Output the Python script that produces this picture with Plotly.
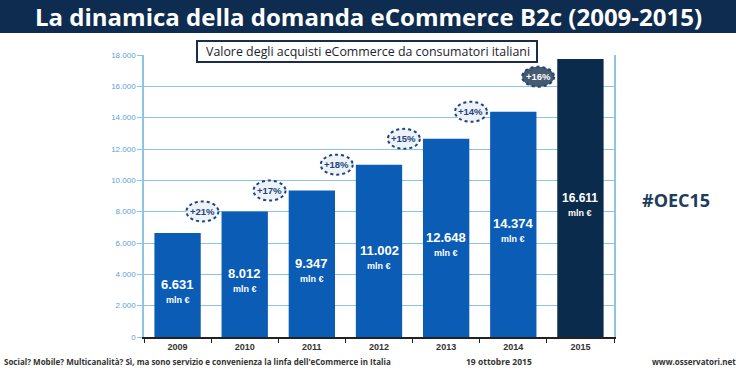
import plotly.graph_objects as go

years = ["2009", "2010", "2011", "2012", "2013", "2014", "2015"]
values = [6631, 8012, 9347, 11002, 12648, 14374, 16611]
value_labels = ["6.631", "8.012", "9.347", "11.002", "12.648", "14.374", "16.611"]
bar_heights = [6631, 8012, 9347, 11002, 12648, 14374, 17750]  # 2015 bar drawn taller in the picture
growth = ["", "+21%", "+17%", "+18%", "+15%", "+14%", "+16%"]
bar_colors = ["#0b5cb5"] * 6 + ["#0b2b4c"]
ytick_vals = [0, 2000, 4000, 6000, 8000, 10000, 12000, 14000, 16000, 18000]

W, H = 736, 368
ML, MR, MT, MB = 144, 122, 55, 31
pw = W - ML - MR
ph = H - MT - MB

xpos = list(range(len(years)))

fig = go.Figure()
fig.add_trace(go.Bar(
    x=xpos, y=bar_heights, width=0.69,
    marker=dict(color=bar_colors, line=dict(width=0)),
    hoverinfo="skip", showlegend=False,
))

annotations = []
shapes = []
for i, (v, h, lab) in enumerate(zip(values, bar_heights, value_labels)):
    fs = 13 if i < 6 else 12
    annotations.append(dict(
        x=i, y=h / 2, xref="x", yref="y",
        text=f"<b>{lab}</b>", showarrow=False,
        font=dict(family="Liberation Sans, Arial", size=fs, color="white"),
        yanchor="bottom", yshift=-9,
    ))
    annotations.append(dict(
        x=i, y=h / 2, xref="x", yref="y",
        text="<b>mln €</b>", showarrow=False,
        font=dict(family="Liberation Sans, Arial", size=9, color="white"),
        yanchor="top", yshift=-8,
    ))
    if growth[i]:
        dark = (i == 6)
        xc = i - 0.63
        shapes.append(dict(
            type="circle", xref="x", yref="y",
            xsizemode="pixel", ysizemode="pixel",
            xanchor=xc, yanchor=v,
            x0=-16, x1=16, y0=-10, y1=10,
            fillcolor="#465a70" if dark else "#eef2f7",
            line=dict(color="#1b4580", width=2, dash="dot"),
            layer="above",
        ))
        annotations.append(dict(
            x=xc, y=v, xref="x", yref="y", text=f"<b>{growth[i]}</b>",
            showarrow=False,
            font=dict(family="Liberation Sans, Arial", size=9.5,
                      color="white" if dark else "#1b4580"),
        ))

# title bar
shapes.append(dict(type="rect", xref="paper", yref="paper",
                   x0=-ML / pw, x1=1 + MR / pw,
                   y0=1 + (MT - 33) / ph, y1=1 + MT / ph,
                   fillcolor="#0d2c4f", line=dict(width=0), layer="above"))
# subtitle box
shapes.append(dict(type="rect", xref="paper", yref="paper",
                   x0=(197 - ML) / pw, x1=(537 - ML) / pw,
                   y0=(H - MB - 62) / ph, y1=(H - MB - 41) / ph,
                   fillcolor="white", line=dict(color="#1a2e48", width=2), layer="above"))

annotations += [
    dict(xref="paper", yref="paper", x=(368 - ML) / pw, y=(H - MB - 17) / ph,
         text="<b>La dinamica della domanda eCommerce B2c (2009-2015)</b>",
         showarrow=False, font=dict(family="Open Sans", size=24, color="white"),
         xanchor="center", yanchor="middle"),
    dict(xref="paper", yref="paper", x=(368 - ML) / pw, y=(H - MB - 51.5) / ph,
         text="Valore degli acquisti eCommerce da consumatori italiani",
         showarrow=False, font=dict(family="Open Sans", size=12.4, color="#1a2430"),
         xanchor="center", yanchor="middle"),
    dict(xref="paper", yref="paper", x=(676 - ML) / pw, y=(H - MB - 200) / ph,
         text="<b>#OEC15</b>", showarrow=False,
         font=dict(family="Open Sans", size=18, color="#1d3d5c"),
         xanchor="center", yanchor="middle"),
    dict(xref="paper", yref="paper", x=(2 - ML) / pw, y=(H - MB - 361) / ph,
         text="<b>Social? Mobile? Multicanalità? Sì, ma sono servizio e convenienza la linfa dell'eCommerce in Italia</b>",
         showarrow=False, font=dict(family="Open Sans", size=8, color="#333333"),
         xanchor="left", yanchor="middle"),
    dict(xref="paper", yref="paper", x=(499 - ML) / pw, y=(H - MB - 361) / ph,
         text="<b>19 ottobre 2015</b>", showarrow=False,
         font=dict(family="Open Sans", size=8.5, color="#333333"),
         xanchor="center", yanchor="middle"),
    dict(xref="paper", yref="paper", x=(694 - ML) / pw, y=(H - MB - 361) / ph,
         text="<b>www.osservatori.net</b>", showarrow=False,
         font=dict(family="Open Sans", size=8, color="#333333"),
         xanchor="center", yanchor="middle"),
]

fig.update_layout(
    width=W, height=H,
    margin=dict(l=ML, r=MR, t=MT, b=MB, pad=0),
    paper_bgcolor="white", plot_bgcolor="white",
    separators=",.",
    shapes=shapes, annotations=annotations,
    xaxis=dict(
        range=[-0.5, 6.5], tickmode="array", tickvals=xpos,
        ticktext=[f"<b>{y}</b>" for y in years],
        showgrid=False, zeroline=False,
        showline=True, linecolor="#222222", linewidth=1.5,
        ticks="", ticklen=0,
        tickfont=dict(family="Liberation Sans, Arial", size=9, color="#333333"),
        minor=dict(tickmode="array", tickvals=[k - 0.5 for k in range(len(years) + 1)],
                   ticks="outside", ticklen=4, tickcolor="#222222", showgrid=False),
    ),
    yaxis=dict(
        range=[0, 18000], tickvals=ytick_vals, tickformat=",d",
        showgrid=True, gridcolor="#8cc3e6", gridwidth=1.2,
        zeroline=False, showline=True, linecolor="#8cc3e6", linewidth=1.5,
        mirror=True,
        ticks="outside", ticklen=5, tickcolor="#8cc3e6",
        tickfont=dict(family="Liberation Sans, Arial", size=8, color="#5b9fd6"),
    ),
)

fig.write_html("out.html", config={"displayModeBar": False},
               post_script="document.body.style.margin='0';document.body.style.overflow='hidden';")
